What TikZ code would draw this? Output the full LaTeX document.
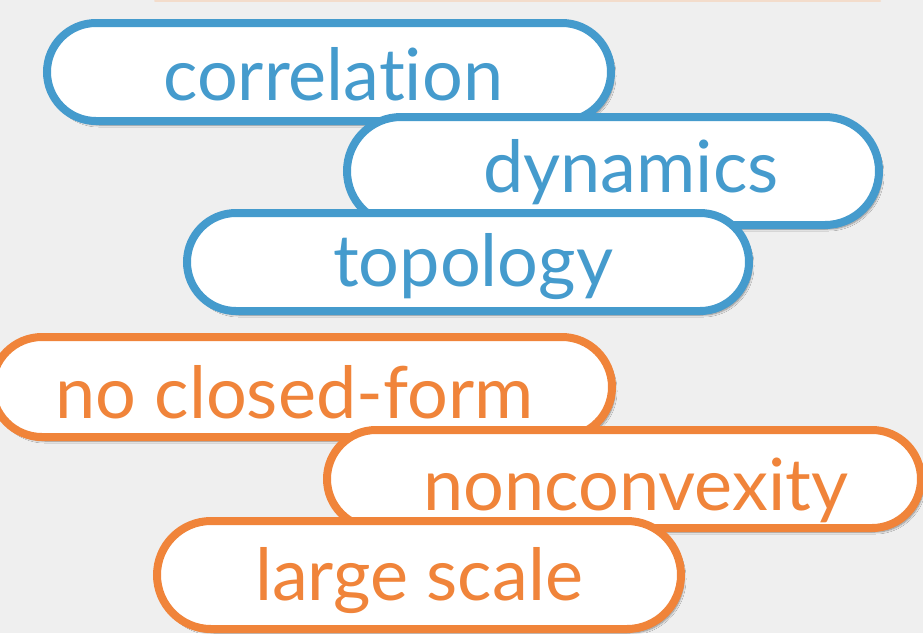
\documentclass[tikz,border=0pt]{standalone}
\usepackage{fontspec}
\setmainfont{Lato}[Ligatures={NoCommon}]
\usetikzlibrary{shapes.misc,shadows.blur}
\definecolor{bg}{HTML}{EFEFEF}
\definecolor{pblue}{HTML}{459BCD}
\definecolor{porange}{HTML}{F0843A}
\definecolor{peach}{HTML}{F3DCCB}
\tikzset{
  pill/.style={rounded rectangle, draw=#1, line width=8pt, fill=white, inner sep=0pt,
    blur shadow={shadow xshift=3pt, shadow yshift=-4pt, shadow blur steps=8, shadow opacity=45}},
  word/.style={anchor=base west, inner sep=0pt, text=#1, font=\fontsize{72}{80}\selectfont}
}
\begin{document}
\begin{tikzpicture}[x=1pt,y=-1pt]
\fill[bg] (0,0) rectangle (923,633);
\useasboundingbox (0,0) rectangle (923,633);
\coordinate (la) at (155,1);
\coordinate (lb) at (880,1);
\draw[peach, line width=2pt, line cap=round] (la) -- (lb);
% blue pills
\node[pill=pblue, minimum width=564pt, minimum height=98pt] (p1) at (329,72) {};
\node[word=pblue] (t1) at (163,100) {correlation};
\node[pill=pblue, minimum width=532pt, minimum height=108pt] (p2) at (613,171) {};
\node[word=pblue] (t2) at (483,192) {dynamics};
\node[pill=pblue, minimum width=562pt, minimum height=98pt] (p3) at (468,262) {};
\node[word=pblue] (t3) at (333,286) {topology};
% orange pills
\node[pill=porange, minimum width=620pt, minimum height=100pt] (p4) at (302,387) {};
\node[word=porange] (t4) at (55,418) {no closed{-}form};
\node[pill=porange, minimum width=594pt, minimum height=98pt] (p5) at (624,479) {};
\node[word=porange] (t5) at (423,510) {nonconvexity};
\node[pill=porange, minimum width=524pt, minimum height=108pt] (p6) at (419,575) {};
\node[word=porange] (t6) at (255,600) {large scale};
\end{tikzpicture}
\end{document}
